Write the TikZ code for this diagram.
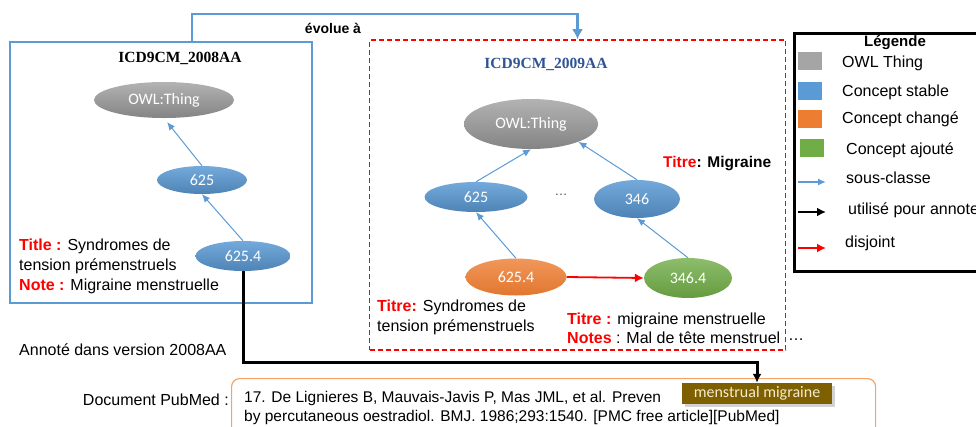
\documentclass[tikz,border=0pt]{standalone}
\usepackage{fontspec}
\setmainfont{Liberation Sans}
\newfontfamily\serifhead{Liberation Serif}
\newfontfamily\calfont{Carlito}
\usepackage{xcolor}
\usepackage{tikz}
\usetikzlibrary{arrows.meta,positioning,shapes.geometric,shadows}
\definecolor{stableblue}{HTML}{5B9BD5}
\definecolor{thinggray}{HTML}{A5A5A5}
\definecolor{changedorange}{HTML}{ED7D31}
\definecolor{addedgreen}{HTML}{70AD47}
\definecolor{headblue}{HTML}{2F5496}
\definecolor{pubmedorange}{HTML}{F4A460}
\definecolor{tagbrown}{HTML}{7F6000}
\definecolor{tagtext}{HTML}{F4EBD0}
\tikzset{
  concept/.style={ellipse, inner sep=0pt, font=\calfont\fontsize{16}{16}\selectfont, text=white},
  thingnode/.style={concept, top color=thinggray!85!white, bottom color=thinggray!80!black},
  stablenode/.style={concept, top color=stableblue!85!white, bottom color=stableblue!85!black},
  changednode/.style={concept, top color=changedorange!80!white, bottom color=changedorange!95!black},
  addednode/.style={concept, top color=addedgreen!80!white, bottom color=addedgreen!90!black},
  versionbox/.style={draw, inner sep=0pt},
  versiontitle/.style={font=\serifhead\bfseries\fontsize{15.5}{18}\selectfont},
  bodytext/.style={inner sep=0pt, align=left, font=\fontsize{16}{20}\selectfont},
  legswatch/.style={minimum width=24, minimum height=18, inner sep=0pt},
  subclass/.style={-{Latex[length=8pt,width=7pt]}, line width=1pt, draw=stableblue},
  disjoint/.style={-{Latex[length=9pt,width=9pt]}, line width=1.8pt, draw=red},
  annotarrow/.style={-{Latex[length=9pt,width=9pt]}, line width=3pt, draw=black},
  evolve/.style={-{Latex[length=10pt,width=11pt]}, line width=2.5pt, draw=stableblue}
}
\begin{document}
\begin{tikzpicture}[x=1pt,y=-1pt]
\useasboundingbox (0,0) rectangle (976,426);
\clip (0,0) rectangle (976,426);
% version 2008AA
\node[versionbox, draw=stableblue, line width=2pt, minimum width=302, minimum height=261] (box2008) at (161,172.5) {};
\node[versiontitle] (title2008) at (180,58) {ICD9CM\_2008AA};
\node[thingnode, minimum width=140, minimum height=36] (thingA) at (164,100) {OWL:Thing};
\node[stablenode, minimum width=90, minimum height=28] (c625A) at (202,180) {625};
\node[stablenode, minimum width=95, minimum height=30] (c6254A) at (243,256) {625.4};
\draw[subclass, shorten >=5pt] (c625A.north) -- (thingA.south);
\draw[subclass] (c6254A.north) -- (c625A.south);
\node[bodytext, anchor=west] (desc2008) at (19,266) {{\bfseries\color{red}Title :} Syndromes de\\tension prémenstruels\\{\bfseries\color{red}Note :} Migraine menstruelle};
% version 2009AA
\node[versionbox, draw=red, line width=1.6pt, dash pattern=on 5pt off 3pt, minimum width=416, minimum height=310] (box2009) at (577.5,195) {};
\node[versiontitle, text=headblue] (title2009) at (546,64) {ICD9CM\_2009AA};
\node[thingnode, minimum width=134, minimum height=50] (thingB) at (531,124) {OWL:Thing};
\node[stablenode, minimum width=103, minimum height=30] (c625B) at (476,197) {625};
\node[stablenode, minimum width=86, minimum height=38] (c346B) at (637,199) {346};
\node[changednode, minimum width=101, minimum height=37] (c6254B) at (516,277) {625.4};
\node[addednode, minimum width=88, minimum height=40] (c3464B) at (688,278) {346.4};
\node[font=\fontsize{13}{13}\selectfont, text=black!70] (dotsB) at (561,195) {…};
\draw[subclass] (c625B.north) -- (thingB.south);
\draw[subclass] (c346B.north) -- (thingB.south east);
\draw[subclass] (c6254B.north) -- (c625B.south);
\draw[subclass] (c3464B.north) -- (c346B.south);
\draw[disjoint] (c6254B.east) -- (c3464B.west);
\node[bodytext, anchor=west, font=\bfseries\fontsize{15.5}{20}\selectfont] (desc346) at (663,164) {{\color{red}Titre}: Migraine};
\node[bodytext, anchor=west] (desc6254B) at (377,317) {{\bfseries\color{red}Titre:} Syndromes de\\tension prémenstruels};
\node[bodytext, anchor=west, font=\fontsize{16}{19}\selectfont] (desc3464B) at (567,328.5) {{\bfseries\color{red}Titre :} migraine menstruelle\\{\bfseries\color{red}Notes} : Mal de tête menstruel};
\node[bodytext, anchor=west] (moreB) at (788,340) {…};
% evolution link
\draw[evolve] ([xshift=31pt]box2008.north) -- ++(0,-27) -| (box2009.north);
\node[font=\bfseries\fontsize{14}{14}\selectfont] (evolabel) at (333,28) {évolue à};
% legend
\node[draw, line width=3pt, minimum width=200, minimum height=238, anchor=north west] (legend) at (793,32) {};
\node[font=\bfseries\fontsize{15}{15}\selectfont] (legtitle) at (895,43) {Légende};
\node[legswatch, fill=thinggray] (swThing) at (810,61) {};
\node[legswatch, fill=stableblue] (swStable) at (810,91) {};
\node[legswatch, fill=changedorange] (swChanged) at (810,118.5) {};
\node[legswatch, fill=addedgreen] (swAdded) at (812,147.5) {};
\node[bodytext, anchor=west] (lbThing) at (842,63) {OWL Thing};
\node[bodytext, anchor=west] (lbStable) at (842,92) {Concept stable};
\node[bodytext, anchor=west] (lbChanged) at (842,119) {Concept changé};
\node[bodytext, anchor=west] (lbAdded) at (846,150) {Concept ajouté};
\coordinate (laSub) at (798,182);
\coordinate (laAnnot) at (798,212);
\coordinate (laDisj) at (798,248);
\draw[subclass, line width=2pt] (laSub) -- ++(28,0);
\draw[annotarrow, line width=2.5pt] (laAnnot) -- ++(28,0);
\draw[disjoint, line width=2.5pt] (laDisj) -- ++(28,0);
\node[bodytext, anchor=west] (lbSub) at (846,178) {sous-classe};
\node[bodytext, anchor=west] (lbAnnot) at (848,210) {utilisé pour annoter};
\node[bodytext, anchor=west] (lbDisj) at (845,243) {disjoint};
% annotation in PubMed
\node[bodytext, anchor=west] (annotlabel) at (19,350) {Annoté dans version 2008AA};
\node[bodytext, anchor=east] (pubmedlabel) at (229,400) {Document PubMed :};
\node[draw=pubmedorange, line width=1.2pt, rounded corners=8pt, minimum width=644, minimum height=70, anchor=north west] (pubmed) at (231,378) {};
\node[bodytext, anchor=west, font=\fontsize{15.5}{19}\selectfont] (citation) at (244,407.5) {17. De Lignieres B, Mauvais-Javis P, Mas JML, et al. Preven\\by percutaneous oestradiol. BMJ. 1986;293:1540. [PMC free article][PubMed]};
\node[fill=tagbrown, text=tagtext, font=\calfont\fontsize{16}{16}\selectfont, minimum width=150, minimum height=21, inner sep=0pt, drop shadow={opacity=0.35}] (mmtag) at (757,393.5) {menstrual migraine};
\draw[annotarrow] (c6254A.south) -- ++(0,91) -| (mmtag.north);
\end{tikzpicture}
\end{document}
